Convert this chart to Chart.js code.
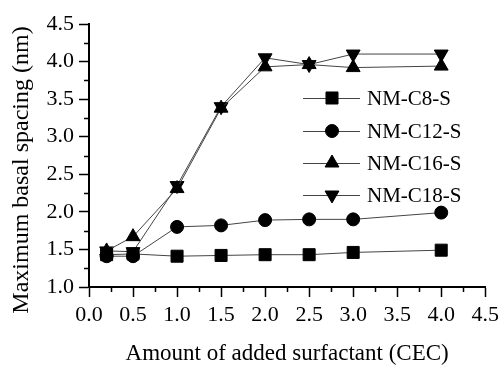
<!DOCTYPE html>
<html>
<head>
<meta charset="utf-8">
<script src="https://cdn.jsdelivr.net/npm/chart.js@4"></script>
<style>
  html, body { margin: 0; padding: 0; background: #fff; }
  #wrap { width: 504px; height: 368px; }
</style>
</head>
<body>
<div id="wrap"><canvas id="chart"></canvas></div>
<script>
// surfactant amount (CEC)
const amounts = [0.2, 0.5, 1.0, 1.5, 2.0, 2.5, 3.0, 4.0];
const nmC8 = [1.43, 1.44, 1.41, 1.42, 1.43, 1.43, 1.46, 1.49];
const nmC12 = [1.41, 1.41, 1.80, 1.82, 1.89, 1.90, 1.90, 1.99];
const nmC16 = [1.48, 1.67, 2.31, 3.38, 3.93, 3.96, 3.92, 3.94];
const nmC18 = [1.48, 1.47, 2.35, 3.40, 4.05, 3.96, 4.10, 4.10];
const seriesNames = ['NM-C8-S', 'NM-C12-S', 'NM-C16-S', 'NM-C18-S'];
const xTitle = 'Amount of added surfactant (CEC)';
const yTitle = 'Maximum basal spacing (nm)';

const serif = '"Liberation Serif", "DejaVu Serif", serif';

function pts(vals) {
    return amounts.map((a, i) => ({ x: a, y: vals[i] }));
}

function makeSet(label, vals, style, radius, rot) {
    return {
        label: label,
        data: pts(vals),
        borderColor: '#444',
        borderWidth: 1,
        backgroundColor: '#000',
        pointBackgroundColor: '#000',
        pointBorderColor: '#000',
        pointBorderWidth: 1,
        pointStyle: style,
        pointRadius: radius,
        pointRotation: rot,
        tension: 0
    };
}

// minor ticks, y title and legend
const extras = {
    id: 'extras',
    afterDraw(chart) {
        const ctx = chart.ctx;
        const x = chart.scales.x, y = chart.scales.y;
        const area = chart.chartArea;
        ctx.save();
        ctx.strokeStyle = '#000';
        ctx.lineWidth = 1.5;
        ctx.beginPath();
        for (let v = 0.25; v < 4.5; v += 0.5) {
            const px = Math.round(x.getPixelForValue(v)) + 0.5;
            ctx.moveTo(px, area.bottom);
            ctx.lineTo(px, area.bottom + 5);
        }
        for (let v = 1.25; v < 4.5; v += 0.5) {
            const py = Math.round(y.getPixelForValue(v)) + 0.5;
            ctx.moveTo(area.left, py);
            ctx.lineTo(area.left - 5, py);
        }
        ctx.stroke();

        // y axis title
        ctx.save();
        ctx.translate(22, 170);
        ctx.rotate(-Math.PI / 2);
        ctx.font = '24px ' + serif;
        ctx.fillStyle = '#000';
        ctx.textAlign = 'center';
        ctx.textBaseline = 'middle';
        ctx.fillText(yTitle, 0, 0);
        ctx.restore();

        // legend
        const rows = [98, 131, 163, 195];
        ctx.font = '21px ' + serif;
        ctx.textBaseline = 'middle';
        chart.data.datasets.forEach((ds, i) => {
            const yy = rows[i];
            ctx.strokeStyle = '#444';
            ctx.lineWidth = 1;
            ctx.beginPath();
            ctx.moveTo(303, yy + 0.5);
            ctx.lineTo(360, yy + 0.5);
            ctx.stroke();
            ctx.fillStyle = '#000';
            ctx.strokeStyle = '#000';
            Chart.helpers.drawPoint(ctx, {
                pointStyle: ds.pointStyle,
                radius: ds.pointRadius,
                rotation: ds.pointRotation,
                borderWidth: 1
            }, 332, yy);
            ctx.fillText(ds.label, 367, yy + 1);
        });
        ctx.restore();
    }
};

new Chart(document.getElementById('chart'), {
    type: 'line',
    data: {
        datasets: [
            makeSet(seriesNames[0], nmC8, 'rect', 8.5, 0),
            makeSet(seriesNames[1], nmC12, 'circle', 6.5, 0),
            makeSet(seriesNames[2], nmC16, 'triangle', 8, 0),
            makeSet(seriesNames[3], nmC18, 'triangle', 8, 180)
        ]
    },
    options: {
        responsive: true,
        maintainAspectRatio: false,
        animation: false,
        layout: { padding: { top: 24, right: 15, left: 0, bottom: 0 } },
        plugins: {
            legend: { display: false },
            tooltip: { enabled: false }
        },
        scales: {
            x: {
                type: 'linear',
                min: 0,
                max: 4.5,
                grid: { drawOnChartArea: false, tickLength: 10, tickColor: '#000', tickWidth: 1.5 },
                border: { color: '#000', width: 2 },
                ticks: {
                    stepSize: 0.5,
                    color: '#000',
                    padding: 5,
                    maxRotation: 0,
                    font: { family: serif, size: 22 },
                    callback: v => v.toFixed(1)
                },
                title: {
                    display: true,
                    text: xTitle,
                    color: '#000',
                    font: { family: serif, size: 23 },
                    padding: { top: 10, bottom: 0 }
                },
                afterFit: s => { s.height = 81; }
            },
            y: {
                min: 1.0,
                max: 4.5,
                grid: { drawOnChartArea: false, tickLength: 10, tickColor: '#000', tickWidth: 1.5 },
                border: { color: '#000', width: 2 },
                ticks: {
                    stepSize: 0.5,
                    color: '#000',
                    padding: 5,
                    font: { family: serif, size: 22 },
                    callback: v => v.toFixed(1)
                },
                afterFit: s => { s.width = 89; }
            }
        }
    },
    plugins: [extras]
});
</script>
</body>
</html>
